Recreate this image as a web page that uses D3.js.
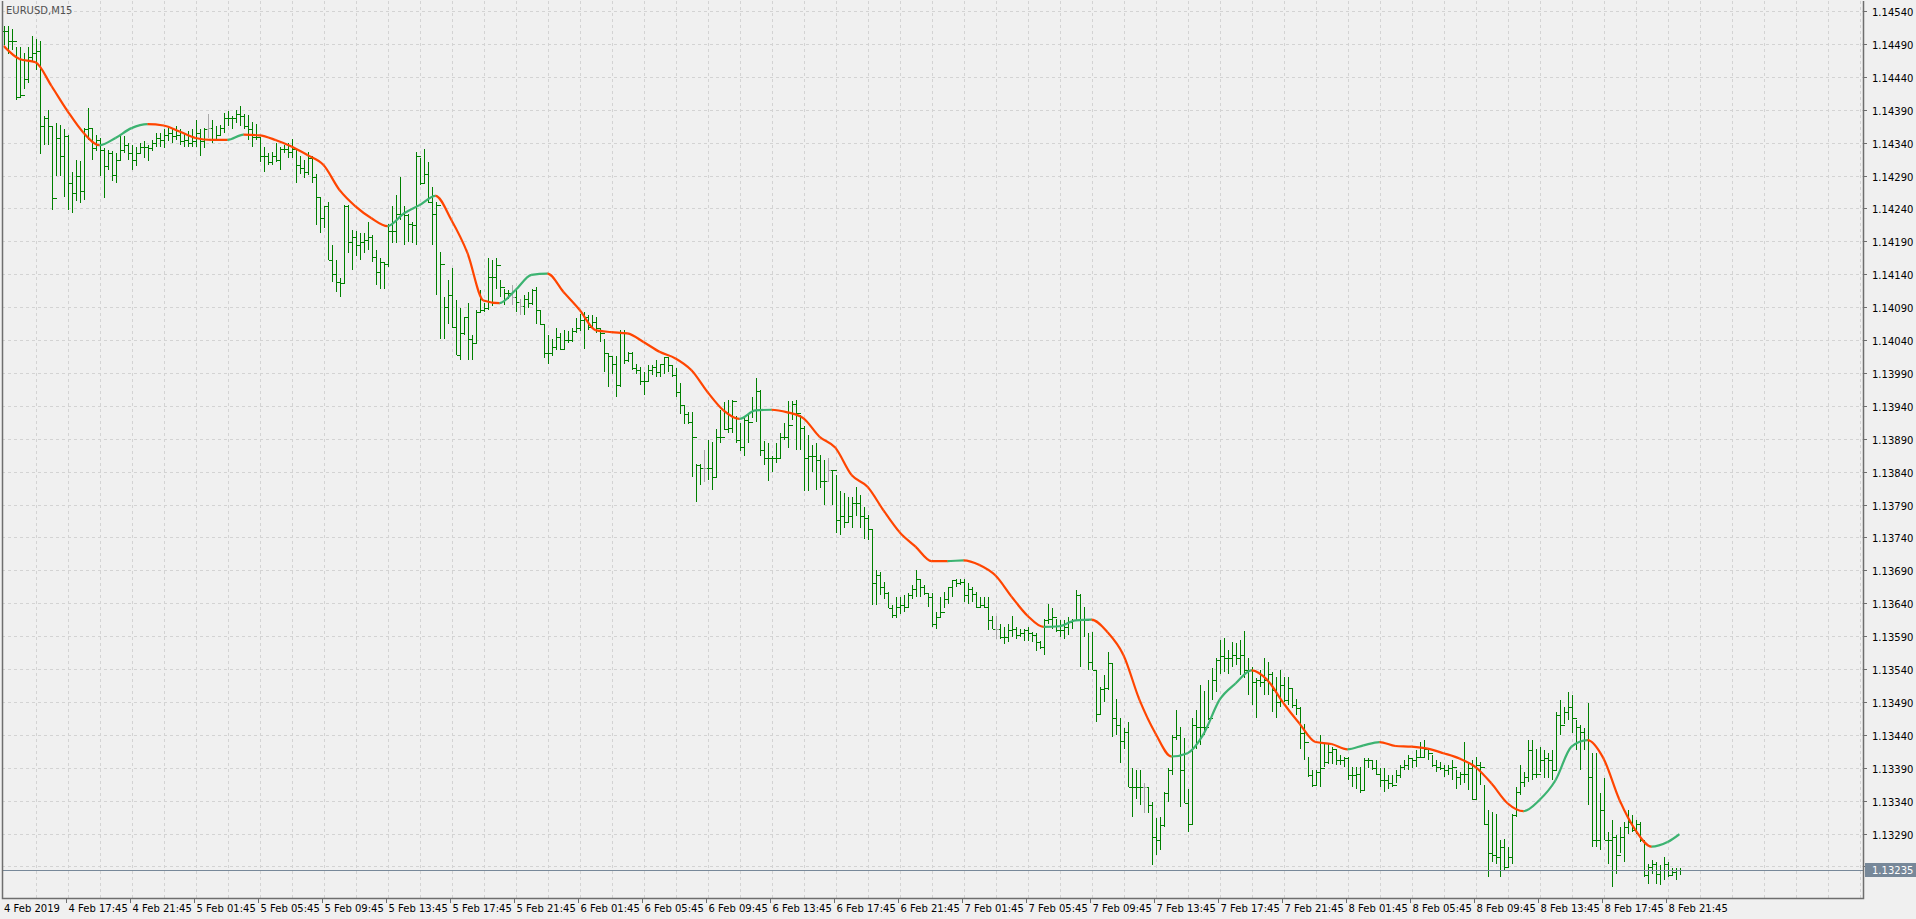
<!DOCTYPE html>
<html>
<head>
<meta charset="utf-8">
<title>EURUSD,M15</title>
<script src="https://d3js.org/d3.v7.min.js"></script>
<style>
  body { margin:0; background:#f0f0f0; overflow:hidden; }
  svg text { font-family: "DejaVu Sans", sans-serif; font-size:10px; fill:#000; }
</style>
</head>
<body>
<svg id="chart" width="1916" height="919"></svg>
<script>
// prices in points (1e-5) above 1.13000
var base = 1.13;
var highs = [1517,1517,1512,1486,1486,1476,1486,1502,1497,1494,
1380,1390,1365,1370,1367,1360,1352,1296,1314,1312,
1362,1393,1362,1352,1347,1332,1329,1327,1324,1352,
1350,1339,1337,1334,1339,1342,1337,1344,1355,1355,
1360,1362,1362,1365,1360,1355,1357,1360,1375,1360,
1362,1383,1375,1365,1367,1385,1388,1380,1390,1395,
1383,1382,1372,1369,1349,1334,1324,1326,1339,1334,
1336,1339,1346,1331,1319,1314,1326,1319,1293,1258,
1243,1250,1184,1161,1134,1245,1245,1207,1205,1202,
1202,1220,1200,1177,1164,1159,1217,1243,1260,1288,
1243,1232,1220,1326,1316,1331,1311,1273,1250,1174,
1106,1131,1149,1101,1088,1075,1096,1047,1085,1116,
1096,1164,1162,1164,1131,1118,1116,1124,1116,1103,
1108,1113,1118,1121,1086,1065,1048,1042,1058,1050,
1055,1053,1058,1073,1080,1083,1078,1078,1075,1058,
1042,1020,1015,1015,1055,1055,1022,1022,1004,999,
992,1002,1002,1009,1004,1014,1014,1002,997,974,
941,931,931,852,852,873,888,885,905,933,
946,949,949,924,914,921,929,954,982,964,
886,883,863,883,898,914,947,947,949,926,
909,896,881,883,865,858,860,843,835,810,
807,802,802,817,805,786,774,753,690,688,
672,657,637,650,650,652,655,667,690,677,
667,655,655,627,650,657,665,675,677,677,
677,670,665,657,649,649,649,621,621,609,
604,609,621,604,601,601,604,596,594,583,
616,639,632,616,614,614,619,616,660,654,
634,594,596,538,513,531,566,549,495,465,
450,460,389,386,386,366,361,338,313,315,
353,389,440,478,452,435,358,465,478,516,
506,523,541,556,584,587,569,581,579,584,
597,556,543,526,538,556,551,536,528,538,
528,528,511,495,483,457,407,386,386,440,
427,427,422,417,409,407,407,391,391,391,
404,404,402,402,389,389,379,379,386,394,
402,409,404,417,429,432,419,409,402,399,
394,394,401,386,384,429,399,401,407,399,
363,325,323,320,280,282,270,320,361,394,
384,432,432,419,422,417,412,417,475,493,
483,505,500,462,455,450,488,412,412,351,
374,293,310,287,300,308,325,318,310,308,
277,244,249,247,242,254,247,237,237,237];

var lows = [1489,1474,1481,1405,1408,1421,1431,1464,1451,1322,
1337,1337,1238,1289,1289,1258,1238,1233,1251,1248,
1253,1344,1314,1327,1289,1256,1299,1281,1279,1312,
1324,1314,1299,1304,1322,1317,1312,1327,1334,1334,
1332,1342,1339,1344,1337,1334,1334,1334,1334,1319,
1332,1347,1339,1344,1352,1355,1365,1360,1370,1365,
1360,1344,1334,1344,1311,1296,1306,1306,1311,1298,
1324,1316,1316,1278,1293,1286,1291,1278,1215,1202,
1210,1161,1128,1113,1106,1126,1172,1146,1167,1161,
1172,1177,1159,1123,1118,1118,1151,1187,1187,1222,
1184,1189,1187,1184,1276,1278,1248,1184,1108,1042,
1042,1065,1058,1017,1009,1047,1009,1009,1035,1083,
1083,1086,1091,1118,1106,1093,1103,1093,1083,1078,
1078,1088,1093,1065,1063,1012,1004,1015,1025,1025,
1025,1035,1037,1050,1053,1027,1055,1058,1050,1037,
992,969,989,954,969,1004,1007,994,989,972,
956,977,987,984,984,989,992,984,954,928,
913,913,832,794,819,824,827,812,832,883,
903,899,899,883,871,863,883,921,916,863,
850,825,840,853,860,888,876,919,873,873,
810,810,840,812,815,790,825,790,746,744,
754,762,754,772,754,738,736,637,637,652,
647,632,617,617,624,627,632,647,649,649,
652,634,604,601,619,632,639,649,665,667,
642,639,642,632,634,632,599,601,586,586,
578,581,589,586,589,583,583,581,568,571,
561,609,601,596,589,586,591,601,614,543,
589,538,538,459,472,490,508,437,440,397,
419,361,315,343,333,321,321,242,257,265,
300,338,379,432,331,336,293,305,419,424,
440,462,493,505,533,536,533,543,546,531,
526,500,485,465,513,500,500,475,465,483,
490,485,480,470,419,402,376,361,364,361,
391,396,396,394,394,391,371,361,358,351,
356,389,386,379,361,353,358,361,366,374,
386,386,389,391,404,407,402,391,384,386,
376,379,371,358,363,366,356,341,341,363,
303,224,247,244,224,234,239,244,315,348,
361,369,371,374,384,374,374,371,386,440,
457,462,442,417,386,417,333,270,270,265,
280,244,209,229,260,247,290,293,290,277,
224,214,229,214,211,219,224,227,219,227];

var closes = [1509,1494,1494,1410,1413,1436,1470,1476,1479,1365,
1377,1365,1256,1347,1319,1350,1279,1263,1289,1266,
1360,1362,1332,1344,1329,1304,1324,1291,1314,1329,
1337,1324,1314,1324,1334,1334,1332,1339,1347,1344,
1352,1355,1350,1352,1342,1344,1339,1342,1355,1342,
1360,1362,1344,1352,1362,1377,1377,1377,1383,1380,
1365,1360,1349,1349,1319,1319,1311,1319,1314,1331,
1331,1326,1331,1306,1301,1296,1316,1288,1258,1225,
1243,1161,1141,1128,1126,1243,1189,1197,1184,1189,
1192,1197,1166,1144,1159,1156,1205,1205,1232,1232,
1230,1217,1215,1319,1278,1293,1250,1232,1245,1156,
1090,1108,1060,1017,1050,1075,1042,1035,1083,1085,
1088,1136,1136,1154,1121,1111,1111,1106,1098,1091,
1103,1096,1116,1086,1065,1020,1020,1030,1045,1027,
1040,1040,1053,1058,1070,1075,1060,1068,1058,1050,
1020,1015,1004,972,1050,1009,1020,997,994,977,
977,994,999,992,1004,1014,1002,987,961,941,
928,916,893,850,845,845,845,832,893,893,
905,906,947,888,878,919,916,934,962,873,
860,860,860,860,893,893,911,942,929,906,
860,863,863,858,825,825,843,843,767,772,
764,772,792,792,772,769,753,670,683,665,
655,632,622,634,637,634,652,662,677,665,
655,650,609,619,627,647,665,675,670,672,
652,662,654,634,637,634,614,601,601,589,
589,599,601,591,594,599,594,591,581,573,
614,616,619,599,599,604,611,614,652,614,
614,551,538,472,510,511,549,465,455,430,
445,361,361,361,361,361,333,285,280,303,
351,386,437,440,386,336,305,455,452,452,
452,465,523,554,559,556,556,561,556,561,
538,538,521,523,521,523,533,508,490,516,
493,511,485,480,442,429,379,364,384,389,
399,414,419,402,402,404,379,379,381,356,
402,402,389,381,371,371,366,364,379,391,
394,404,402,407,407,419,412,394,391,389,
386,389,391,376,381,381,389,343,394,391,
305,260,257,254,270,239,254,318,353,369,
376,417,381,381,401,404,401,386,470,455,
475,483,465,452,445,432,376,280,280,325,
280,280,285,257,285,300,308,295,305,280,
227,239,244,229,234,244,227,232,234,235];

// bars drawn grey (no change) in the reference
var dojiBars = [51, 127, 129, 175, 206, 248, 285];

// smoothed moving average, read every 4 bars
var maBars = [0,4,8,12,16,20,24,28,32,36,40,44,48,52,56,60,64,68,72,76,80,84,88,92,96,100,
104,108,112,116,120,124,128,132,136,140,144,148,152,156,160,164,168,172,176,180,184,188,192,196,200,
204,208,212,216,220,224,228,232,236,240,244,248,252,256,260,264,268,272,276,280,284,288,292,296,300,
304,308,312,316,320,324,328,332,336,340,344,348,352,356,360,364,368,372,376,380,384,388,392,396,400,
404,408,412,416,419];
var maVals = [1487,1467,1462,1426,1388,1355,1336,1347,1362,1368,1366,1357,1347,1344,1344,1352,1351,1344,1334,1321,1306,1268,1243,1225,1213,1232,
1245,1259,1222,1172,1100,1096,1116,1139,1141,1113,1086,1055,1052,1050,1037,1022,1012,994,961,933,920,933,934,930,921,
893,876,835,817,781,748,726,704,704,705,698,682,650,621,604,605,614,615,596,561,493,442,407,412,441,
493,518,538,523,488,457,429,426,418,424,429,423,422,419,412,404,391,366,336,324,341,371,422,432,404,
341,295,270,277,289];

var priceTicks = d3.range(0, 27).map(function(k){ return 1540 - 50*k; });
var timeLabels = ["4 Feb 17:45","4 Feb 21:45","5 Feb 01:45","5 Feb 05:45","5 Feb 09:45","5 Feb 13:45","5 Feb 17:45","5 Feb 21:45",
"6 Feb 01:45","6 Feb 05:45","6 Feb 09:45","6 Feb 13:45","6 Feb 17:45","6 Feb 21:45","7 Feb 01:45","7 Feb 05:45","7 Feb 09:45",
"7 Feb 13:45","7 Feb 17:45","7 Feb 21:45","8 Feb 01:45","8 Feb 05:45","8 Feb 09:45","8 Feb 13:45","8 Feb 17:45","8 Feb 21:45"];
var lastPrice = 235;

var svg = d3.select("#chart");
var L = 2, R = 1863, T = 1, B = 898;

var x = d3.scaleLinear().domain([0, 1]).range([3.5, 7.5]);
var y = d3.scaleLinear().domain([1.13540 - 229/65800, 1.13540 + 669/65800]).range([B, 0]);
var py = function(v){ return y(base + v/100000); };

svg.append("rect").attr("width",1916).attr("height",919).attr("fill","#f0f0f0");
var defs = svg.append("defs");

// grid
var g = svg.append("g");
for (var i = 8; x(i) < R; i += 8) {
	g.append("line").attr("x1", Math.round(x(i)) + .5).attr("x2", Math.round(x(i)) + .5)
		.attr("y1", T).attr("y2", B).attr("stroke","#d3d3d3").attr("stroke-dasharray","3,3");
}
priceTicks.forEach(function(v){
	var yy = Math.round(py(v)) + .5;
	g.append("line").attr("x1", L).attr("x2", R).attr("y1", yy).attr("y2", yy)
		.attr("stroke","#d3d3d3").attr("stroke-dasharray","3,3");
});

// bars
var bars = svg.append("g").attr("shape-rendering","crispEdges");
closes.forEach(function(c, i){
	var xx = Math.round(x(i)) + .5;
	var o = i > 0 ? closes[i-1] : c;
	var col = dojiBars.indexOf(i) >= 0 ? "#a9a9a9" : "#008000";
	bars.append("line").attr("x1",xx).attr("x2",xx).attr("y1",Math.round(py(highs[i]))).attr("y2",Math.round(py(lows[i]))).attr("stroke",col);
	bars.append("line").attr("x1",xx-2).attr("x2",xx).attr("y1",Math.round(py(o))+.5).attr("y2",Math.round(py(o))+.5).attr("stroke",col);
	bars.append("line").attr("x1",xx).attr("x2",xx+2.5).attr("y1",Math.round(py(c))+.5).attr("y2",Math.round(py(c))+.5).attr("stroke",col);
});

// current price line
svg.append("line").attr("x1",L).attr("x2",R).attr("y1",Math.round(py(lastPrice))+.5).attr("y2",Math.round(py(lastPrice))+.5)
	.attr("stroke","#778899");

// MA coloured by direction: one smooth curve, clipped per segment
var maPts = maBars.map(function(b, k){ return [b, maVals[k]]; });
var curve = d3.line().curve(d3.curveMonotoneX)
	.x(function(d){ return x(d[0]); }).y(function(d){ return py(d[1]); });
var maPath = curve(maPts);
var ma = svg.append("g");
for (var k = 0; k < maBars.length - 1; k++) {
	var up = maVals[k+1] > maVals[k];
	var x0 = x(maBars[k]), x1 = x(maBars[k+1]);
	defs.append("clipPath").attr("id","seg"+k).append("rect")
		.attr("x", x0).attr("width", x1 - x0 + .3).attr("y", 0).attr("height", B);
	ma.append("path").attr("d", maPath).attr("clip-path","url(#seg"+k+")")
		.attr("fill","none").attr("stroke", up ? "#3cb371" : "#ff4500").attr("stroke-width",2.2);
}

// frame
svg.append("path").attr("d","M"+(L+.5)+","+T+"V"+(B+.5)+"H"+(R+.5)+"V"+T).attr("fill","none").attr("stroke","#6e6e6e").attr("stroke-width",1.5);

// price axis
priceTicks.forEach(function(v){
	var yy = Math.round(py(v)) + .5;
	svg.append("line").attr("x1",R).attr("x2",R+4).attr("y1",yy).attr("y2",yy).attr("stroke","#6e6e6e");
	svg.append("text").attr("x",R+9).attr("y",yy+4).text((base + v/100000).toFixed(5));
});
var ly = Math.round(py(lastPrice));
svg.append("rect").attr("x",R+2).attr("y",ly-7).attr("width",58).attr("height",14).attr("fill","#778899");
svg.append("text").attr("x",R+9).attr("y",ly+4).style("fill","#fff").text((base + lastPrice/100000).toFixed(5));

// time axis
svg.append("text").attr("x",4).attr("y",912).text("4 Feb 2019");
timeLabels.forEach(function(t, k){
	var xx = Math.round(x(16 + 16*k)) - 1.5;
	svg.append("line").attr("x1",xx).attr("x2",xx).attr("y1",B).attr("y2",B+5).attr("stroke","#6e6e6e");
	svg.append("text").attr("x",xx+2).attr("y",912).text(t);
});

svg.append("text").attr("x",6).attr("y",14).style("fill","#505050").text("EURUSD,M15");
</script>
</body>
</html>
